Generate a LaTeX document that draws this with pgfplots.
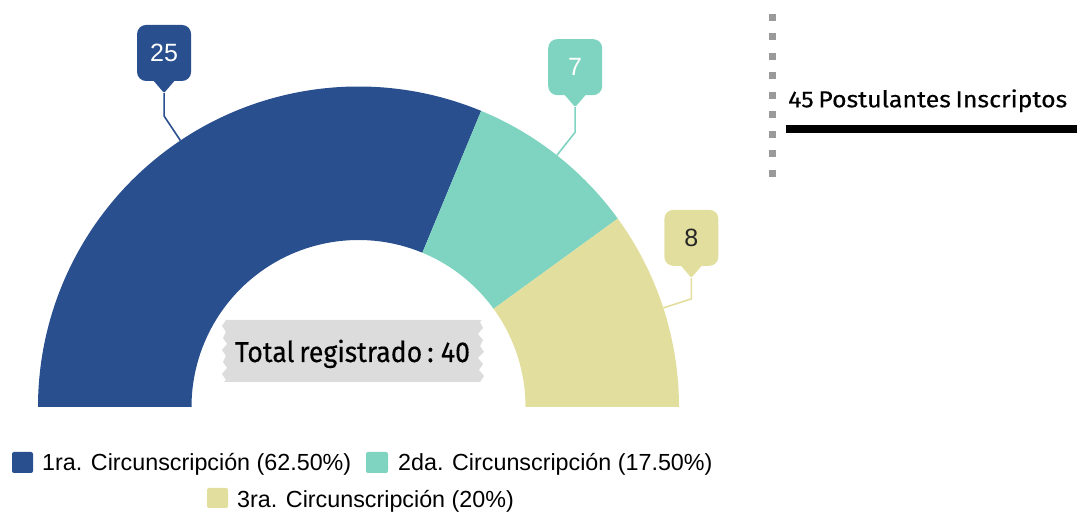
\documentclass[border=0pt]{standalone}
\usepackage{pgfplots}
\pgfplotsset{compat=1.18}
\usepackage{pgfplotstable}
\usepackage{fontspec}
\setmainfont{Liberation Sans}
\newfontfamily\condfont[WordSpace=0.7, FakeBold=0.3]{Fira Sans}
\usetikzlibrary{calc}
\definecolor{c1}{HTML}{294F8E}
\definecolor{c2}{HTML}{7ED4C0}
\definecolor{c3}{HTML}{E2DE9E}
\definecolor{tapegray}{HTML}{DCDCDC}
\definecolor{dotgray}{HTML}{9A9A9A}

\pgfplotstableread{
name value
1ra 25
2da 7
3ra 8
}\datatable

\newcommand\callout[5]{% angle, colour, text colour, value, vertical length
  \coordinate (P) at ($(C)+(#1:320.5bp)$);
  \coordinate (Q) at ($(C)+(#1:350bp)$);
  \coordinate (T) at ($(Q)+(0bp,#5bp)$);
  \draw[#2, line width=1.6bp] (P) -- (Q) -- (T);
  \fill[#2, rounded corners=9bp] ($(T)+(-27bp,12bp)$) rectangle ($(T)+(27bp,68bp)$);
  \fill[#2, rounded corners=2bp] (T) -- ($(T)+(-12bp,14bp)$) -- ($(T)+(12bp,14bp)$) -- cycle;
  \node[text=#3, font=\fontsize{25bp}{25bp}\selectfont, inner sep=0pt] at ($(T)+(0bp,40bp)$) {#4};
}

\begin{document}
\begin{tikzpicture}[x=1bp,y=1bp]
\path[use as bounding box] (0,0) rectangle (1077,514);
\pgfplotstablegetelem{0}{value}\of\datatable \let\va\pgfplotsretval
\pgfplotstablegetelem{1}{value}\of\datatable \let\vb\pgfplotsretval
\pgfplotstablegetelem{2}{value}\of\datatable \let\vc\pgfplotsretval
\pgfmathsetmacro\tot{\va+\vb+\vc}
\pgfmathsetmacro\aA{180}
\pgfmathsetmacro\aB{180-180*\va/\tot}
\pgfmathsetmacro\aC{\aB-180*\vb/\tot}
\pgfmathsetmacro\aD{\aC-180*\vc/\tot}
\pgfmathsetmacro\mA{(\aA+\aB)/2}
\pgfmathsetmacro\mB{(\aB+\aC)/2}
\pgfmathsetmacro\mC{(\aC+\aD)/2}
\begin{axis}[width=1077bp,height=514bp,scale only axis,
  xmin=0,xmax=1077,ymin=0,ymax=514,hide axis,clip=false,
  anchor=south west, at={(0,0)}]
  \coordinate (C) at (axis cs:358.5,107);
  \fill[c1] (axis cs:358.5,107) ++(\aA:320.5bp) arc[start angle=\aA,end angle=\aB,radius=320.5bp]
     -- ++({\aB+180}:153.5bp) arc[start angle=\aB,end angle=\aA,radius=167bp] -- cycle;
  \fill[c2] (axis cs:358.5,107) ++(\aB:320.5bp) arc[start angle=\aB,end angle=\aC,radius=320.5bp]
     -- ++({\aC+180}:153.5bp) arc[start angle=\aC,end angle=\aB,radius=167bp] -- cycle;
  \fill[c3] (axis cs:358.5,107) ++(\aC:320.5bp) arc[start angle=\aC,end angle=\aD,radius=320.5bp]
     -- ++({\aD+180}:153.5bp) arc[start angle=\aD,end angle=\aC,radius=167bp] -- cycle;
\end{axis}

% callouts
\callout{\mA}{c1}{white}{25}{23}
\callout{\mB}{c2}{white}{7}{25}
\callout{\mC}{c3}{black!85}{8}{21}

% centre tape label
\fill[tapegray] (226,194) -- (222,188) -- (226,182) -- (223,176) -- (227,170) -- (222,164)
  -- (226,158) -- (223,152) -- (227,146) -- (222,140) -- (226,134) -- (224,132)
  -- (480,132) -- (484,138) -- (479,144) -- (483,150) -- (478,156) -- (484,162)
  -- (480,168) -- (483,174) -- (478,180) -- (483,186) -- (480,192) -- (482,194) -- cycle;
\node[anchor=base, inner sep=0pt] at (352.5,152)
  {\resizebox{235bp}{22.4bp}{\condfont Total registrado : 40}};

% top-right annotation
\draw[dotgray, line width=7bp, dash pattern=on 7bp off 12.5bp] (772.5,500) -- (772.5,336);
\node[anchor=base west, inner sep=0pt] at (788,406.7)
  {\resizebox{279bp}{18bp}{\condfont 45 Postulantes Inscriptos}};
\fill[black] (786,381) rectangle (1077,389);

% legend
\fill[c1, rounded corners=2bp] (12,41) rectangle (33,62);
\node[anchor=base west, inner sep=0pt, font=\fontsize{23.3bp}{28bp}\selectfont] at (42,43)
  {1ra. Circunscripción (62.50\%)};
\fill[c2, rounded corners=2bp] (366,41) rectangle (388,62);
\node[anchor=base west, inner sep=0pt, font=\fontsize{23.3bp}{28bp}\selectfont] at (398,43)
  {2da. Circunscripción (17.50\%)};
\fill[c3, rounded corners=2bp] (207,6) rectangle (228,26);
\node[anchor=base west, inner sep=0pt, font=\fontsize{23.3bp}{28bp}\selectfont] at (237,6)
  {3ra. Circunscripción (20\%)};
\end{tikzpicture}
\end{document}
